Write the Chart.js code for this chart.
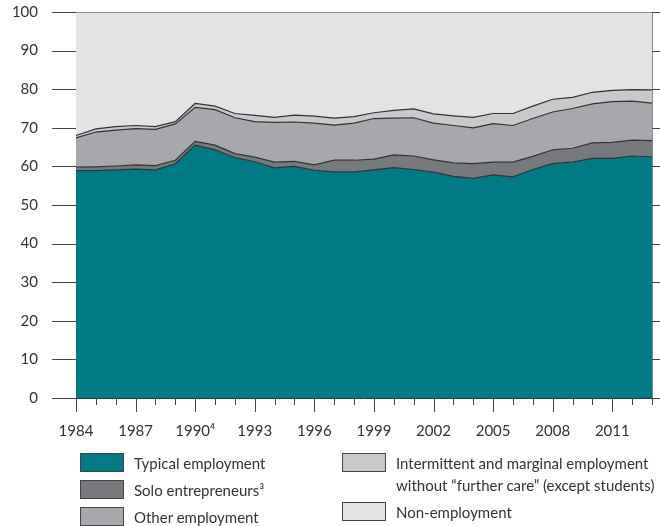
<!DOCTYPE html>
<html>
<head>
<meta charset="utf-8">
<script src="https://cdn.jsdelivr.net/npm/chart.js@4"></script>
<style>
  html, body { margin: 0; padding: 0; background: #fff; }
  #wrap { position: relative; width: 660px; height: 526px; }
  #chart { position: absolute; left: 0; top: 0; }
  .leg { position: absolute; font-family: Lato, sans-serif; font-size: 15px; color: #333; line-height: 22px; }
  .leg .box { position: absolute; left: 0; top: 0; width: 42px; height: 17px; border: 1px solid #444; }
  .leg .txt { position: absolute; left: 54px; top: -1px; white-space: pre; }
</style>
</head>
<body>
<div id="wrap">
  <canvas id="chart" width="660" height="526"></canvas>
</div>
<script>
// survey years (x axis)
const years = [1984, 1985, 1986, 1987, 1988, 1989, 1990, 1991, 1992, 1993,
               1994, 1995, 1996, 1997, 1998, 1999, 2000, 2001, 2002, 2003,
               2004, 2005, 2006, 2007, 2008, 2009, 2010, 2011, 2012, 2013];

// shares in percent, stacked bottom to top
const typical      = [58.9, 58.9, 59.1, 59.3, 59.1, 60.7, 65.5, 64.3, 62.3, 61.2,
                      59.6, 60.0, 59.0, 58.6, 58.6, 59.1, 59.7, 59.2, 58.5, 57.4,
                      56.9, 57.8, 57.3, 59.2, 60.7, 61.1, 62.1, 62.1, 62.7, 62.5];
const solo         = [0.9, 1.0, 1.0, 1.1, 1.1, 0.9, 1.0, 1.2, 1.0, 1.2,
                      1.5, 1.3, 1.4, 3.0, 3.0, 2.8, 3.3, 3.5, 3.2, 3.5,
                      3.8, 3.3, 3.8, 3.4, 3.6, 3.6, 4.0, 4.1, 4.1, 4.2];
const other        = [7.6, 9.0, 9.3, 9.4, 9.4, 9.4, 8.8, 9.2, 9.3, 9.2,
                      10.3, 10.2, 10.8, 9.1, 9.6, 10.5, 9.5, 9.9, 9.5, 9.7,
                      9.3, 10.0, 9.5, 9.8, 9.8, 10.3, 10.1, 10.6, 10.1, 9.7];
const intermittent = [0.6, 0.8, 0.9, 0.8, 0.7, 0.6, 1.0, 0.9, 1.1, 1.6,
                      1.3, 1.8, 1.8, 1.8, 1.7, 1.5, 2.0, 2.3, 2.4, 2.5,
                      2.7, 2.6, 3.1, 3.2, 3.3, 2.9, 3.0, 2.9, 3.0, 3.4];
const nonEmployment = [32.0, 30.3, 29.7, 29.4, 29.7, 28.4, 23.7, 24.4, 26.3, 26.8,
                       27.3, 26.7, 27.0, 27.5, 27.1, 26.1, 25.5, 25.1, 26.4, 26.9,
                       27.3, 26.3, 26.3, 24.4, 22.6, 22.1, 20.8, 20.3, 20.1, 20.2];

const yTicks = [0, 10, 20, 30, 40, 50, 60, 70, 80, 90, 100];

const seriesLabels = [
    'Typical employment',
    'Solo entrepreneurs\u00B3',
    'Other employment',
    'Intermittent and marginal employment\nwithout \u201Cfurther care\u201D (except students)',
    'Non-employment'
];
const seriesColors = ['#007b86', '#78797c', '#a7a8ab', '#c8c9cb', '#e2e3e5'];
const seriesData = [typical, solo, other, intermittent, nonEmployment];

const font = { family: 'Lato, sans-serif', size: 15 };

// tick marks: years below the x axis (long every third year),
// percent ticks left of the y axis and right of the frame
const axisTicks = {
    id: 'axisTicks',
    afterDraw(chart) {
        const { x, y } = chart.scales;
        const area = chart.chartArea;
        const c = chart.ctx;
        c.save();
        c.strokeStyle = '#444';
        c.lineWidth = 1;
        c.beginPath();
        years.forEach((yr, i) => {
            const px = Math.round(x.getPixelForValue(i)) + 0.5;
            c.moveTo(px, area.bottom);
            c.lineTo(px, area.bottom + (i % 3 === 0 ? 14 : 7));
        });
        yTicks.forEach(v => {
            const py = Math.round(y.getPixelForValue(v)) + 0.5;
            c.moveTo(area.left - 24, py);
            c.lineTo(area.left, py);
            c.moveTo(area.right, py);
            c.lineTo(area.right + 8, py);
        });
        c.stroke();
        c.restore();
    }
};

const ctx = document.getElementById('chart').getContext('2d');
const chart = new Chart(ctx, {
    type: 'line',
    data: {
        labels: years,
        datasets: seriesData.map((d, i) => ({
            label: seriesLabels[i],
            data: d,
            backgroundColor: seriesColors[i],
            borderColor: '#333',
            borderWidth: 1.2,
            pointRadius: 0,
            tension: 0,
            fill: i === 0 ? 'origin' : '-1'
        }))
    },
    options: {
        responsive: false,
        animation: false,
        layout: { padding: { top: 12, left: 0, right: 0, bottom: 0 } },
        plugins: {
            legend: { display: false },
            tooltip: { enabled: false }
        },
        scales: {
            x: {
                offset: false,
                grid: { display: false, drawTicks: false },
                border: { color: '#333', width: 1 },
                ticks: {
                    autoSkip: false,
                    maxRotation: 0,
                    padding: 24,
                    color: '#333',
                    font: font,
                    callback: (v, i) => i % 3 === 0 ? (years[i] === 1990 ? '1990\u2074' : String(years[i])) : ''
                },
                afterFit: s => { s.height = 128; s.paddingLeft = 0; s.paddingRight = 0; }
            },
            y: {
                stacked: true,
                min: 0,
                max: 100,
                afterBuildTicks: s => { s.ticks = yTicks.map(v => ({ value: v })); },
                ticks: { padding: 38, color: '#333', font: font },
                grid: { display: false, drawTicks: false },
                border: { color: '#888', width: 1 },
                afterFit: s => { s.width = 76; s.paddingTop = 0; s.paddingBottom = 0; }
            },
            y2: {
                position: 'right',
                min: 0,
                max: 100,
                ticks: { display: false },
                grid: { display: false, drawTicks: false },
                border: { color: '#888', width: 1 },
                afterFit: s => { s.width = 8; s.paddingTop = 0; s.paddingBottom = 0; }
            }
        }
    },
    plugins: [axisTicks]
});

// legend in two columns under the chart
const legendPos = [
    [80, 453], [80, 480], [80, 507],
    [342, 453], [342, 502]
];
const wrap = document.getElementById('wrap');
seriesLabels.forEach((lab, i) => {
    const item = document.createElement('div');
    item.className = 'leg';
    item.style.left = legendPos[i][0] + 'px';
    item.style.top = legendPos[i][1] + 'px';
    const box = document.createElement('div');
    box.className = 'box';
    box.style.background = seriesColors[i];
    const txt = document.createElement('div');
    txt.className = 'txt';
    txt.textContent = lab;
    item.appendChild(box);
    item.appendChild(txt);
    wrap.appendChild(item);
});
</script>
</body>
</html>
